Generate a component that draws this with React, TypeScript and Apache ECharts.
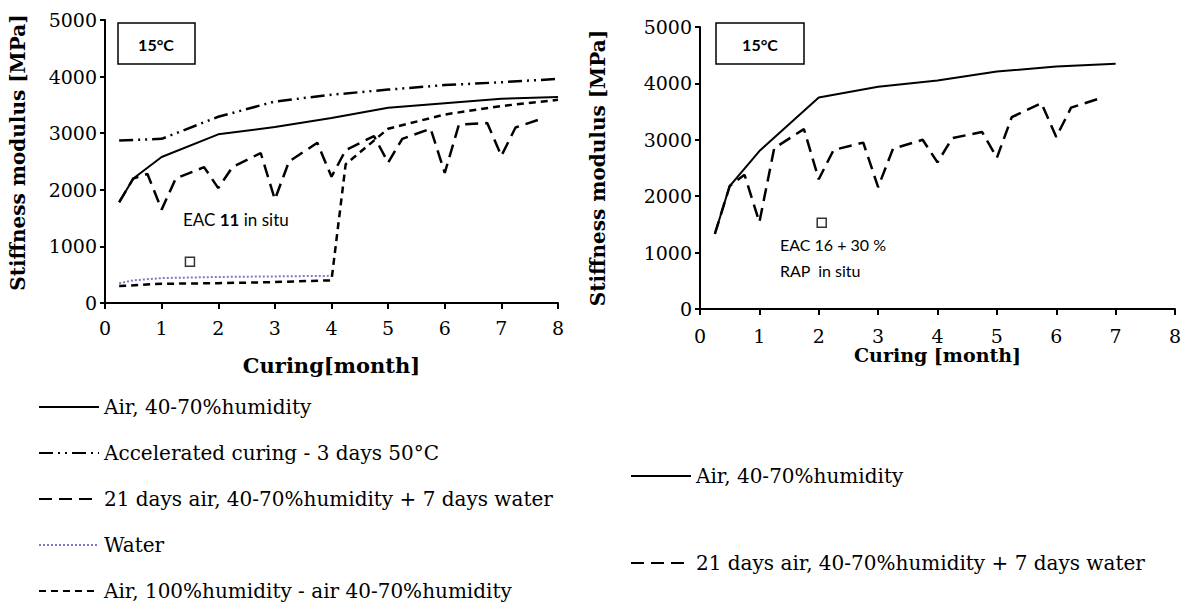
import React, { useEffect, useRef } from "react";
import * as echarts from "echarts";

// ---------- Left chart: EAC 11 ----------
const airLeftMonths = [0.25, 0.5, 1, 2, 3, 4, 5, 6, 7, 8];
const airLeftValues = [1780, 2200, 2580, 2980, 3110, 3270, 3450, 3530, 3610, 3640];

const accelMonths = [0.25, 1, 2, 3, 4, 5, 6, 7, 8];
const accelValues = [2870, 2900, 3290, 3560, 3680, 3770, 3850, 3900, 3960];

const waterCycleLeftMonths = [0.25, 0.5, 0.75, 1, 1.25, 1.75, 2, 2.25, 2.75, 3, 3.25, 3.75, 4, 4.25, 4.75, 5, 5.25, 5.75, 6, 6.25, 6.75, 7, 7.25, 7.75];
const waterCycleLeftValues = [1780, 2200, 2280, 1650, 2200, 2400, 2030, 2400, 2650, 1830, 2500, 2830, 2230, 2700, 2950, 2480, 2900, 3080, 2300, 3150, 3180, 2600, 3100, 3270];

const waterMonths = [0.25, 0.5, 1, 2, 3, 4];
const waterValues = [350, 400, 440, 460, 470, 480];

const humid100Months = [0.25, 1, 2, 3, 4, 4.25, 5, 6, 7, 8];
const humid100Values = [300, 340, 350, 370, 400, 2450, 3080, 3330, 3480, 3590];

const inSituLeft = [[1.5, 730]];

// ---------- Right chart: EAC 16 + 30 % RAP ----------
const airRightMonths = [0.25, 0.5, 1, 2, 3, 4, 5, 6, 7];
const airRightValues = [1330, 2180, 2800, 3750, 3940, 4050, 4210, 4300, 4350];

const waterCycleRightMonths = [0.25, 0.5, 0.75, 1, 1.25, 1.75, 2, 2.25, 2.75, 3, 3.25, 3.75, 4, 4.25, 4.75, 5, 5.25, 5.75, 6, 6.25, 6.75];
const waterCycleRightValues = [1330, 2180, 2380, 1540, 2850, 3190, 2300, 2820, 2950, 2160, 2840, 3000, 2600, 3030, 3140, 2680, 3400, 3650, 3050, 3570, 3740];

const inSituRight = [[2.05, 1530]];

const xTicks = { min: 0, max: 8, interval: 1 };
const yTicks = { min: 0, max: 5000, interval: 1000 };

const NAME_AIR = "Air, 40-70%humidity";
const NAME_ACCEL = "Accelerated curing - 3 days 50°C";
const NAME_CYCLE = "21 days air, 40-70%humidity + 7 days water";
const NAME_WATER = "Water";
const NAME_H100 = "Air, 100%humidity - air 40-70%humidity";

const pairs = (xs: number[], ys: number[]) => xs.map((x, i) => [x, ys[i]]);

const SERIF = "DejaVu Serif";
const SANS = "Lato";

function makeXAxis(gridIndex: number, name: string, nameGap: number, nameSize: number, margin: number) {
  return {
    gridIndex,
    type: "value",
    ...xTicks,
    name,
    nameLocation: "middle",
    nameGap,
    nameTextStyle: { fontFamily: SERIF, fontWeight: "bold", fontSize: nameSize, color: "#000" },
    axisLine: { show: true, lineStyle: { color: "#000", width: 2 } },
    axisTick: { show: true, length: 6, lineStyle: { color: "#000", width: 2 } },
    axisLabel: { fontFamily: SERIF, fontSize: 19, color: "#000", margin },
    splitLine: { show: false },
  };
}

function makeYAxis(gridIndex: number, nameGap: number, shiftUp: number) {
  return {
    gridIndex,
    type: "value",
    ...yTicks,
    name: "Stiffness modulus [MPa]",
    nameLocation: "middle",
    nameGap,
    nameTextStyle: {
      fontFamily: SERIF,
      fontWeight: "bold",
      fontSize: 20,
      color: "#000",
      padding: [0, 0, 0, shiftUp],
    },
    axisLine: { show: true, lineStyle: { color: "#000", width: 2 } },
    axisTick: { show: true, length: 5, lineStyle: { color: "#000", width: 2 } },
    axisLabel: { fontFamily: SERIF, fontSize: 19, color: "#000", margin: 8, formatter: (v: number) => String(v) },
    splitLine: { show: false },
  };
}

const styles: Record<string, any> = {
  air: { color: "#000", width: 2, type: "solid" },
  accel: { color: "#000", width: 2.5, type: [14, 5, 2, 5, 2, 5] },
  cycle: { color: "#000", width: 2.5, type: [13, 7] },
  water: { color: "#8a74c8", width: 2, type: [2, 2] },
  h100: { color: "#000", width: 2.5, type: [7, 5] },
};

function lineSeries(name: string, idx: number, data: number[][], ls: any) {
  return {
    type: "line",
    name,
    xAxisIndex: idx,
    yAxisIndex: idx,
    data,
    symbol: "none",
    lineStyle: ls,
    itemStyle: { color: ls.color },
    z: 3,
  };
}

function squareSeries(idx: number, data: number[][]) {
  return {
    type: "scatter",
    xAxisIndex: idx,
    yAxisIndex: idx,
    data,
    symbol: "rect",
    symbolSize: 9,
    itemStyle: { color: "#fff", borderColor: "#000", borderWidth: 1.5 },
    z: 4,
  };
}

const legendText = { fontFamily: SERIF, fontSize: 20, color: "#000", lineHeight: 20 };
const legendItemStyle = { opacity: 0, borderWidth: 0 };

const option = {
  animation: false,
  backgroundColor: "#fff",
  grid: [
    { left: 105, top: 20, width: 453, height: 283 },
    { left: 700, top: 27, width: 475, height: 282 },
  ],
  xAxis: [makeXAxis(0, "Curing[month]", 52, 21, 15), makeXAxis(1, "Curing [month]", 34, 19, 17)],
  yAxis: [makeYAxis(0, 77, 18), makeYAxis(1, 92, 0)],
  legend: [
    {
      orient: "vertical",
      left: 38,
      top: 397,
      height: 205,
      padding: 0,
      itemWidth: 60,
      itemHeight: 20,
      itemGap: 26,
      textStyle: legendText,
      itemStyle: legendItemStyle,
      data: [NAME_AIR, NAME_ACCEL, NAME_CYCLE, NAME_WATER, NAME_H100],
      selectedMode: false,
    },
    {
      orient: "vertical",
      left: 630,
      top: 466,
      padding: 0,
      itemWidth: 60,
      itemHeight: 20,
      itemGap: 67,
      textStyle: legendText,
      itemStyle: legendItemStyle,
      data: [NAME_AIR, NAME_CYCLE],
      selectedMode: false,
    },
  ],
  series: [
    lineSeries(NAME_AIR, 0, pairs(airLeftMonths, airLeftValues), styles.air),
    lineSeries(NAME_ACCEL, 0, pairs(accelMonths, accelValues), styles.accel),
    lineSeries(NAME_CYCLE, 0, pairs(waterCycleLeftMonths, waterCycleLeftValues), styles.cycle),
    lineSeries(NAME_WATER, 0, pairs(waterMonths, waterValues), styles.water),
    lineSeries(NAME_H100, 0, pairs(humid100Months, humid100Values), styles.h100),
    squareSeries(0, inSituLeft),
    lineSeries(NAME_AIR, 1, pairs(airRightMonths, airRightValues), styles.air),
    lineSeries(NAME_CYCLE, 1, pairs(waterCycleRightMonths, waterCycleRightValues), styles.cycle),
    squareSeries(1, inSituRight),
  ],
  graphic: [
    {
      type: "rect",
      shape: { x: 118, y: 23, width: 77, height: 41 },
      style: { fill: "#fff", stroke: "#000", lineWidth: 1.5 },
      z: 10,
    },
    {
      type: "text",
      x: 156,
      y: 44,
      style: { text: "15°C", fontFamily: SANS, fontWeight: "bold", fontSize: 16, fill: "#000", align: "center", verticalAlign: "middle" },
      z: 11,
    },
    {
      type: "rect",
      shape: { x: 716, y: 23, width: 88, height: 41 },
      style: { fill: "#fff", stroke: "#000", lineWidth: 1.5 },
      z: 10,
    },
    {
      type: "text",
      x: 760,
      y: 44,
      style: { text: "15°C", fontFamily: SANS, fontWeight: "bold", fontSize: 16, fill: "#000", align: "center", verticalAlign: "middle" },
      z: 11,
    },
    {
      type: "text",
      x: 183,
      y: 219,
      style: {
        text: "EAC {b|11} in situ",
        fontFamily: SANS,
        fontSize: 17,
        fill: "#000",
        verticalAlign: "middle",
        rich: { b: { fontFamily: SANS, fontSize: 17, fontWeight: "bold", fill: "#000" } },
      },
      z: 11,
    },
    {
      type: "text",
      x: 780,
      y: 244,
      style: { text: "EAC 16 + 30 %", fontFamily: SANS, fontSize: 16, fill: "#000", verticalAlign: "middle" },
      z: 11,
    },
    {
      type: "text",
      x: 780,
      y: 270,
      style: { text: "RAP  in situ", fontFamily: SANS, fontSize: 16, fill: "#000", verticalAlign: "middle" },
      z: 11,
    },
  ],
};

export default function App() {
  const ref = useRef<HTMLDivElement>(null);
  useEffect(() => {
    if (!ref.current) return;
    const chart = echarts.init(ref.current, null, { renderer: "svg" });
    chart.setOption(option as any);
    return () => chart.dispose();
  }, []);
  return (
    <div
      ref={ref}
      style={{ position: "fixed", left: 0, top: 0, width: 1187, height: 602, background: "#fff" }}
    />
  );
}
